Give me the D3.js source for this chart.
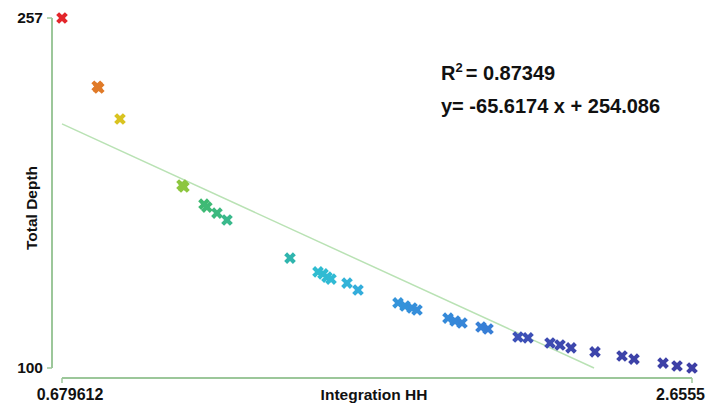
<!DOCTYPE html>
<html><head><meta charset="utf-8">
<script src="https://cdn.jsdelivr.net/npm/d3@7"></script>
<style>body{margin:0;background:#fff}text{font-family:"Liberation Sans",Arial,sans-serif;font-weight:bold;fill:#111}</style>
</head><body><svg id="c" width="707" height="403"></svg>
<script>
const xValues = [0.6796,0.790,0.795,0.8615,1.056,1.062,1.125,1.134,1.1657,1.1971,1.3947,1.4825,1.4982,1.5107,1.5233,1.5735,1.608,1.7334,1.7554,1.7773,1.793,1.8902,1.9122,1.9341,1.9937,2.0157,2.1098,2.1411,2.2102,2.2415,2.276,2.3513,2.436,2.4736,2.5646,2.6085,2.6555];
const yValues = [257,226.4,225.6,211.7,182.1,181.2,173.5,172.2,169.5,166.4,149.3,143.1,142.2,140.8,139.9,138.1,135.0,129.2,127.8,126.9,126.0,122.4,121.1,120.2,118.4,117.5,113.9,113.5,111.2,110.3,109.0,107.2,105.4,104.0,102.2,100.9,100];
const pointColors = ["#e3262b","#e07a28","#e07a28","#d9c320","#8dc63f","#8dc63f","#3fba72","#3fba76","#3cb97f","#3ab98c","#2fb5ae","#30bcd0","#30bcd2","#30bbd3","#31bad4","#33b3d8","#34addb","#3494da","#3492da","#3590da","#358eda","#358ad9","#3688d9","#3786d8","#3880d6","#387ed6","#3d52b8","#3d50b6","#3d4bb1","#3d49af","#3d47ad","#3d45ab","#3d43a9","#3d42a8","#3d41a7","#3d40a6","#3d3fa5"];
const xTicks = [0.679612, 2.6555];
const xTickLabels = ["0.679612", "2.6555"];
const yTicks = [100, 257];
const slope = -65.6174, intercept = 254.086, r2 = "0.87349";

const svg = d3.select("#c");
const x = d3.scaleLinear().domain([0.679612, 2.6555]).range([62, 692]);
const y = d3.scaleLinear().domain([100, 257]).range([368, 18]);
const axisCol = "#9cc79a";

// y axis
svg.append("line").attr("x1",52).attr("x2",52).attr("y1",y(257)).attr("y2",y(100)).attr("stroke",axisCol).attr("stroke-width",2);
yTicks.forEach(t=>{
  svg.append("line").attr("x1",47).attr("x2",52).attr("y1",y(t)).attr("y2",y(t)).attr("stroke",axisCol).attr("stroke-width",1.5);
  svg.append("text").attr("x",43).attr("y",y(t)).attr("dy","0.35em").attr("text-anchor","end").style("font-size","15.5px").text(t);
});
// x axis
svg.append("line").attr("x1",x(xTicks[0])).attr("x2",x(xTicks[1])).attr("y1",378).attr("y2",378).attr("stroke",axisCol).attr("stroke-width",2);
xTicks.forEach((t,i)=>{
  svg.append("line").attr("x1",x(t)).attr("x2",x(t)).attr("y1",378).attr("y2",383).attr("stroke",axisCol).attr("stroke-width",1.5);
  svg.append("text").attr("x", i===0 ? x(t)+8 : 705).attr("y",400).attr("text-anchor", i===0?"middle":"end").style("font-size","16px").text(xTickLabels[i]);
});
svg.append("text").attr("x",374).attr("y",400).attr("text-anchor","middle").style("font-size","15.5px").text("Integration HH");
svg.append("text").attr("transform","translate(37,208) rotate(-90)").attr("text-anchor","middle").style("font-size","15.5px").text("Total Depth");

// regression line
const x0 = 0.679612, x1 = (100 - intercept)/slope;
svg.append("line").attr("x1",x(x0)).attr("y1",y(slope*x0+intercept)).attr("x2",x(x1)).attr("y2",y(slope*x1+intercept))
  .attr("stroke","#b9e2b4").attr("stroke-width",1.5);

// points
const sym = d3.symbol(d3.symbolCross, 85);
svg.append("g").selectAll("path").data(xValues).join("path")
  .attr("d", sym)
  .attr("transform",(d,i)=>`translate(${x(d)},${y(yValues[i])}) rotate(45)`)
  .attr("fill",(d,i)=>pointColors[i]);

// annotation
const ann = svg.append("text").attr("x",441).attr("y",80).style("font-size","20px");
ann.append("tspan").text("R");
ann.append("tspan").attr("dy",-8).style("font-size","13px").text("2");
ann.append("tspan").attr("dy",8).attr("dx",3).text("= " + r2);
svg.append("text").attr("x",441).attr("y",113).style("font-size","20px").text(`y= ${slope} x + ${intercept}`);
</script></body></html>
